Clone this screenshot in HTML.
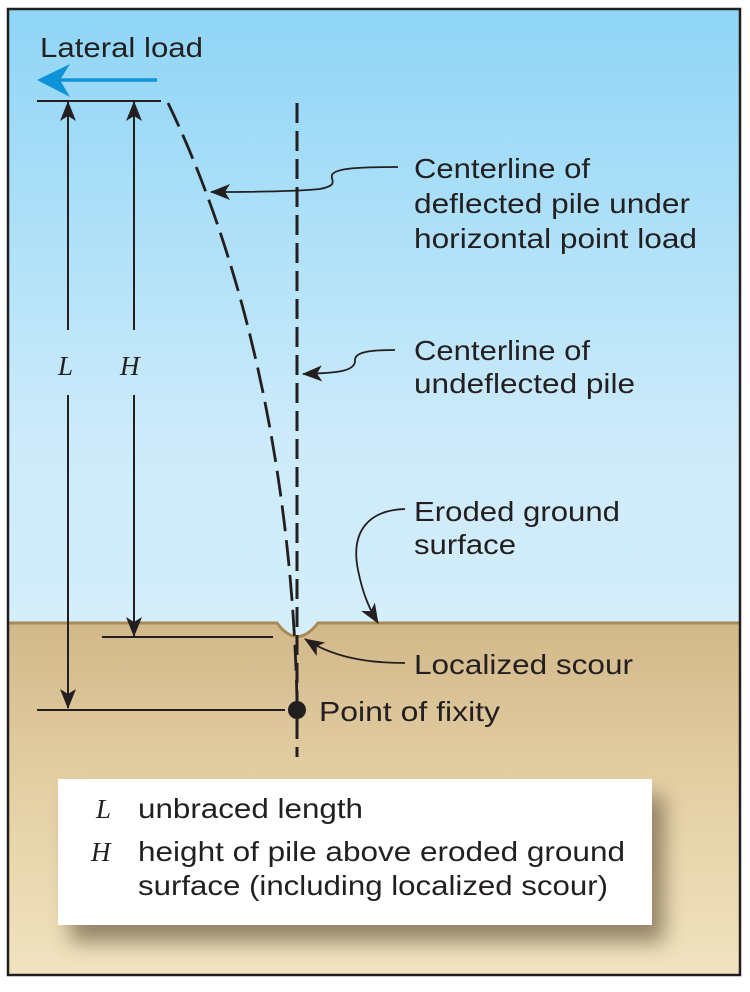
<!DOCTYPE html>
<html><head><meta charset="utf-8"><style>
html,body{margin:0;padding:0;background:#fff;}
svg{display:block;}
text{font-family:"Liberation Sans",sans-serif;fill:#231f20;}
.it{font-family:"Liberation Serif",serif;font-style:italic;}
</style></head><body>
<svg width="750" height="992" viewBox="0 0 750 992" xmlns="http://www.w3.org/2000/svg">
<defs>
<linearGradient id="sky" x1="0" y1="0" x2="0" y2="1">
<stop offset="0" stop-color="#8fd5f6"/><stop offset="0.45" stop-color="#cdebfa"/><stop offset="1" stop-color="#e2f3fc"/>
</linearGradient>
<linearGradient id="gnd" x1="0" y1="0" x2="0" y2="1">
<stop offset="0" stop-color="#d2b88a"/><stop offset="0.5" stop-color="#e5d1a6"/><stop offset="1" stop-color="#f0e3bf"/>
</linearGradient>
<filter id="sh" x="-20%" y="-30%" width="140%" height="170%"><feGaussianBlur stdDeviation="10"/></filter>
<marker id="ahs" markerWidth="20" markerHeight="16" refX="19" refY="8" orient="auto" markerUnits="userSpaceOnUse"><path d="M0,0 L20,8 L0,16 L5,8 Z" fill="#231f20"/></marker>
</defs>
<rect x="8" y="9" width="732" height="966" fill="url(#sky)"/>
<path d="M8,623 L277,623 Q297,650 318,623 L740,623 L740,975 L8,975 Z" fill="url(#gnd)"/>
<path d="M8,623 L277,623 Q297,650 318,623 L740,623" fill="none" stroke="#a88a55" stroke-width="3"/>
<rect x="8" y="9" width="732" height="966" fill="none" stroke="#231f20" stroke-width="2.5"/>
<text x="40" y="57" font-size="28" textLength="163" lengthAdjust="spacingAndGlyphs">Lateral load</text>
<line x1="157" y1="80" x2="60" y2="80" stroke="#0e93d8" stroke-width="3.5"/>
<path d="M37,80 L70,64 L60,80 L70,97 Z" fill="#0e93d8"/>
<line x1="37" y1="101" x2="161" y2="101" stroke="#231f20" stroke-width="2"/>
<line x1="68" y1="330" x2="68" y2="102" stroke="#231f20" stroke-width="2" marker-end="url(#ahs)"/>
<line x1="68" y1="395" x2="68" y2="708" stroke="#231f20" stroke-width="2" marker-end="url(#ahs)"/>
<text x="58" y="375" font-size="27" class="it">L</text>
<line x1="134" y1="330" x2="134" y2="102" stroke="#231f20" stroke-width="2" marker-end="url(#ahs)"/>
<line x1="134" y1="395" x2="134" y2="636" stroke="#231f20" stroke-width="2" marker-end="url(#ahs)"/>
<text x="120" y="375" font-size="27" class="it">H</text>
<line x1="102" y1="637" x2="273" y2="637" stroke="#231f20" stroke-width="2"/>
<line x1="37" y1="710" x2="285" y2="710" stroke="#231f20" stroke-width="2"/>
<line x1="297" y1="103" x2="297" y2="757" stroke="#231f20" stroke-width="3" stroke-dasharray="20,8"/>
<path d="M168,103 C215,200 290,400 297,700" fill="none" stroke="#231f20" stroke-width="2.8" stroke-dasharray="26,9"/>
<circle cx="297" cy="710" r="9" fill="#231f20"/>
<path d="M398,167 C360,167 335,168 332,175 C330,180 340,185 320,189 C300,191 260,192 211,192" fill="none" stroke="#231f20" stroke-width="1.8" marker-end="url(#ahs)"/>
<path d="M395,350 C370,350 355,352 355,360 C356,372 335,373 303,374" fill="none" stroke="#231f20" stroke-width="1.8" marker-end="url(#ahs)"/>
<path d="M405,509 C370,510 350,530 358,570 C363,595 370,610 378,623" fill="none" stroke="#231f20" stroke-width="1.8" marker-end="url(#ahs)"/>
<path d="M405,663 C360,663 330,655 305,639" fill="none" stroke="#231f20" stroke-width="1.8" marker-end="url(#ahs)"/>
<g font-size="28">
<text x="414" y="178" textLength="176" lengthAdjust="spacingAndGlyphs">Centerline of</text>
<text x="414" y="213" textLength="276" lengthAdjust="spacingAndGlyphs">deflected pile under</text>
<text x="414" y="248" textLength="283" lengthAdjust="spacingAndGlyphs">horizontal point load</text>
<text x="414" y="360" textLength="176" lengthAdjust="spacingAndGlyphs">Centerline of</text>
<text x="414" y="393" textLength="221" lengthAdjust="spacingAndGlyphs">undeflected pile</text>
<text x="414" y="521" textLength="206" lengthAdjust="spacingAndGlyphs">Eroded ground</text>
<text x="414" y="554" textLength="102" lengthAdjust="spacingAndGlyphs">surface</text>
<text x="414" y="674" textLength="219" lengthAdjust="spacingAndGlyphs">Localized scour</text>
<text x="319" y="721" textLength="181" lengthAdjust="spacingAndGlyphs">Point of fixity</text>
</g>
<rect x="70" y="796" width="594" height="146" fill="#5a4a30" opacity="0.6" filter="url(#sh)"/>
<rect x="58" y="779" width="594" height="146" fill="#fff"/>
<text x="96" y="818" class="it" font-size="27">L</text>
<text x="138" y="818" font-size="28" textLength="225" lengthAdjust="spacingAndGlyphs">unbraced length</text>
<text x="91" y="861" class="it" font-size="27">H</text>
<text x="138" y="861" font-size="28" textLength="487" lengthAdjust="spacingAndGlyphs">height of pile above eroded ground</text>
<text x="138" y="895" font-size="28" textLength="470" lengthAdjust="spacingAndGlyphs">surface (including localized scour)</text>
</svg>
</body></html>
